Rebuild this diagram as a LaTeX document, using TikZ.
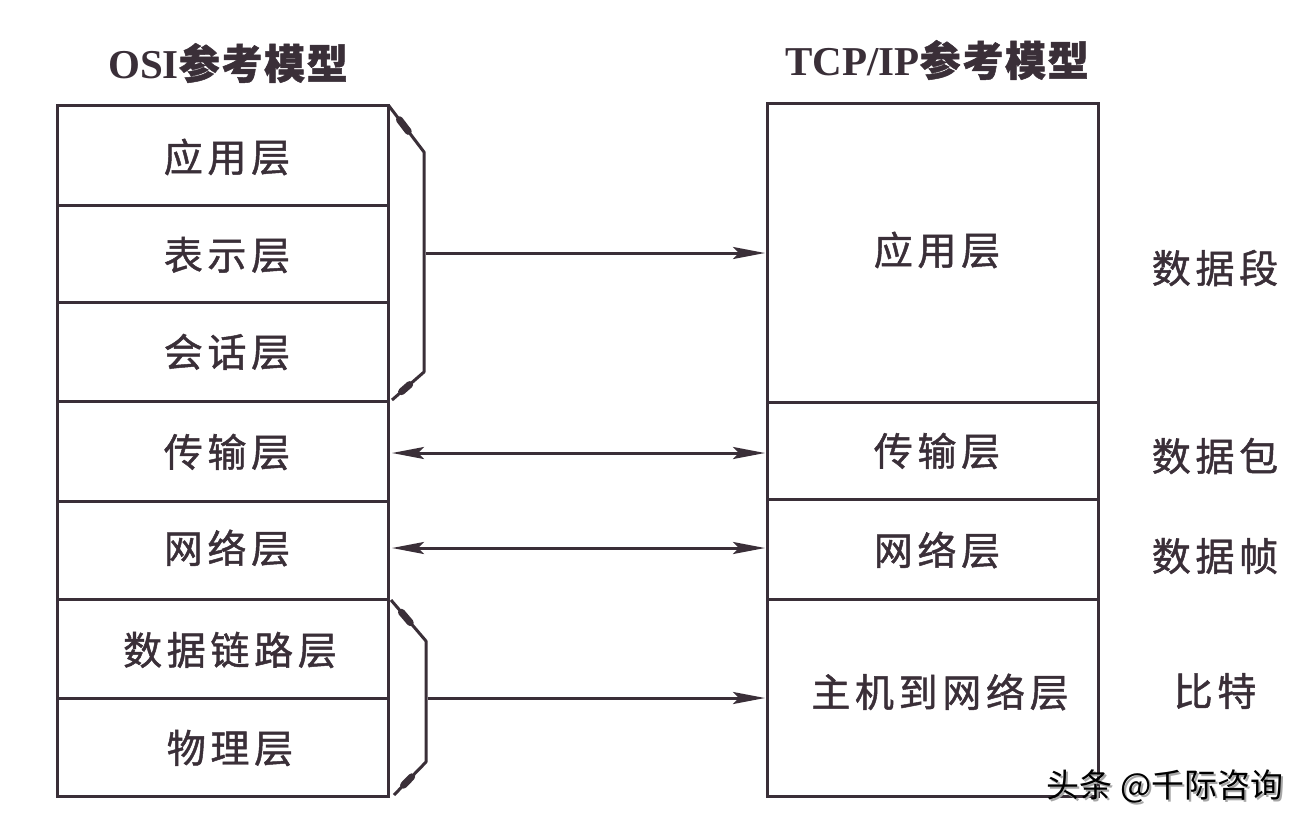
\documentclass[tikz,border=0pt]{standalone}
\usepackage{fontspec}
\setmainfont{Liberation Serif}
\newfontfamily\cjk[LetterSpace=12,FakeBold=1.2]{Noto Sans CJK SC}
\newfontfamily\cjkt[LetterSpace=4,FakeBold=1.2]{Noto Sans CJK SC}
\newfontfamily\cjkw{Noto Sans CJK SC}
\usetikzlibrary{arrows.meta,calc}
\definecolor{ink}{HTML}{3A2F38}
\begin{document}
\begin{tikzpicture}[x=1pt,y=-1pt,
  ln/.style={draw=ink,line width=3pt},
  lbl/.style={font=\cjk\fontsize{39}{42}\selectfont,text=ink},
  ttl/.style={font=\bfseries\fontsize{41}{44}\selectfont,text=ink},
  tip/.style={-{Stealth[length=32pt,width=12pt,inset=6pt]}},
  dtip/.style={{Stealth[length=32pt,width=12pt,inset=6pt]}-{Stealth[length=32pt,width=12pt,inset=6pt]}}]
\useasboundingbox (0,0) rectangle (1308,828);
\fill[white] (0,0) rectangle (1308,828);
% titles
\node[ttl] (t1) at (228,63) {OSI{\cjkt 参考模型}};
\node[ttl] (t2) at (937,60) {TCP/IP{\cjkt 参考模型}};
% OSI stack
\draw[ln] (57,105) rectangle (388,796);
\foreach \y in {205,302,401,501,599,698} \draw[ln] (57,\y) -- (388,\y);
\node[lbl] (o1) at (227,157) {应用层};
\node[lbl] (o2) at (227,255) {表示层};
\node[lbl] (o3) at (227,352) {会话层};
\node[lbl] (o4) at (227,452) {传输层};
\node[lbl] (o5) at (227,548) {网络层};
\node[lbl] (o6) at (230,650) {数据链路层};
\node[lbl] (o7) at (230,748) {物理层};
% TCP/IP stack
\draw[ln] (767,103) rectangle (1098,796);
\foreach \y in {402,499,599} \draw[ln] (767,\y) -- (1098,\y);
\node[lbl] (r1) at (937,250) {应用层};
\node[lbl] (r2) at (937,451) {传输层};
\node[lbl] (r3) at (937,550) {网络层};
\node[lbl] (r4) at (940,692) {主机到网络层};
% unit labels
\node[lbl] (u1) at (1215,268) {数据段};
\node[lbl] (u2) at (1215,456) {数据包};
\node[lbl] (u3) at (1215,556) {数据帧};
\node[lbl] (u4) at (1215,691) {比特};
% braces
\coordinate (b1a) at (389,106);
\coordinate (b1b) at (424,152);
\coordinate (b1c) at (424,372);
\coordinate (b1d) at (392,400);
\draw[ln,line join=round] (b1a) -- (b1b) -- (b1c) -- (b1d);
\draw[draw=ink,line width=7pt,line cap=round] ($(b1a)!0.3!(b1b)$) -- ($(b1a)!0.55!(b1b)$);
\draw[draw=ink,line width=7pt,line cap=round] ($(b1d)!0.3!(b1c)$) -- ($(b1d)!0.55!(b1c)$);
\coordinate (b2a) at (391,600);
\coordinate (b2b) at (426,641);
\coordinate (b2c) at (426,762);
\coordinate (b2d) at (394,795);
\draw[ln,line join=round] (b2a) -- (b2b) -- (b2c) -- (b2d);
\draw[draw=ink,line width=7pt,line cap=round] ($(b2a)!0.3!(b2b)$) -- ($(b2a)!0.55!(b2b)$);
\draw[draw=ink,line width=7pt,line cap=round] ($(b2d)!0.3!(b2c)$) -- ($(b2d)!0.55!(b2c)$);
% connectors
\coordinate (s1) at (426,253);
\coordinate (e1) at (765,253);
\draw[ln,tip] (s1) -- (e1);
\coordinate (s2) at (392,453);
\coordinate (e2) at (765,453);
\draw[ln,dtip] (s2) -- (e2);
\coordinate (s3) at (392,548);
\coordinate (e3) at (765,548);
\draw[ln,dtip] (s3) -- (e3);
\coordinate (s4) at (428,698);
\coordinate (e4) at (765,698);
\draw[ln,tip] (s4) -- (e4);
% watermark
\node[font=\cjkw\fontsize{33}{36}\selectfont,text=black!35!white] (wm0) at (1167,788) {头条 @千际咨询};
\node[font=\cjkw\fontsize{33}{36}\selectfont,text=black] (wm) at (1165,786) {头条 @千际咨询};
\end{tikzpicture}
\end{document}
